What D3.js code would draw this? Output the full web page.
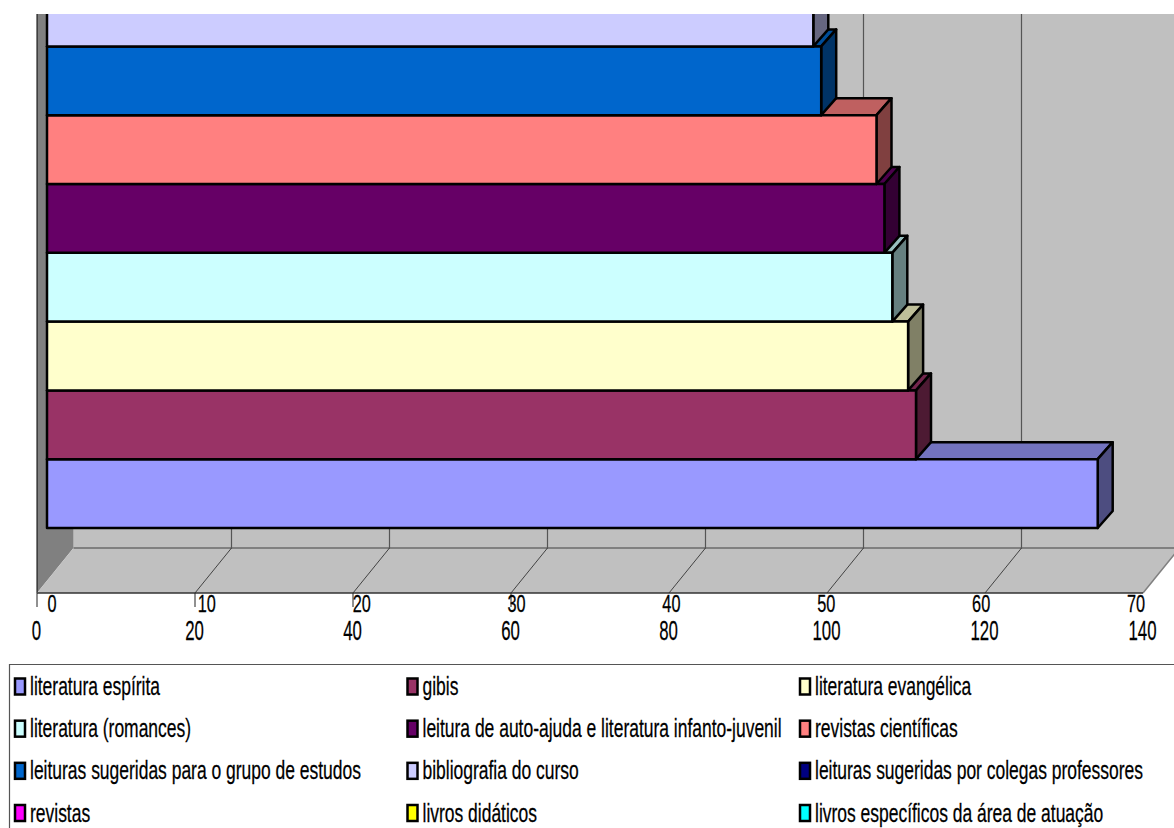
<!DOCTYPE html>
<html>
<head>
<meta charset="utf-8">
<script src="https://cdnjs.cloudflare.com/ajax/libs/d3/7.8.5/d3.min.js"></script>
<style>
  html, body { margin: 0; padding: 0; background: #fff; }
  svg { display: block; font-family: "Liberation Sans", Arial, sans-serif; }
  text { stroke: #000; stroke-width: 0.25; }
</style>
</head>
<body>
<svg id="chart" width="1174" height="828"></svg>
<script>
const categories = [
  'literatura espírita', 'gibis', 'literatura evangélica',
  'literatura (romances)', 'leitura de auto-ajuda e literatura infanto-juvenil', 'revistas científicas',
  'leituras sugeridas para o grupo de estudos', 'bibliografia do curso', 'leituras sugeridas por colegas professores',
  'revistas', 'livros didáticos', 'livros específicos da área de atuação'
];
const colors = [
  '#9999ff', '#993366', '#ffffcc',
  '#ccffff', '#660066', '#ff8080',
  '#0066cc', '#ccccff', '#000080',
  '#ff00ff', '#ffff00', '#00ffff'
];
// only these bars are inside the picture, the others are cut off at the top
const values = [133, 110, 109, 107, 106, 105, 98, 97];
const bottomTicks = [0, 20, 40, 60, 80, 100, 120, 140];
const topTicks = [0, 10, 20, 30, 40, 50, 60, 70];

const svg = d3.select('#chart');
const floorY = 593, backY = 548, depthX = 36.5;
const x = d3.scaleLinear().domain([0, 140]).range([37, 1143]);
const xTop = d3.scaleLinear().domain([0, 70]).range([52, 1136]);
const barX = d3.scaleLinear().domain([0, 140]).range([47, 1153]);
const rowY = d3.scaleLinear().domain([0, 1]).range([528, 459.2]);
const barDx = 15, barDy = 17;

svg.append('defs').append('clipPath').attr('id', 'plot')
  .append('rect').attr('x', 0).attr('y', 14).attr('width', 1174).attr('height', 814);
const g = svg.append('g').attr('clip-path', 'url(#plot)');
const line = d3.line();

// back wall
g.append('rect').attr('x', x(0) + depthX).attr('y', 0)
  .attr('width', 1174).attr('height', backY).attr('fill', '#c0c0c0');

// left wall
g.append('path')
  .attr('d', line([[x(0), 0], [x(0) + depthX, 0], [x(0) + depthX, backY], [x(0), floorY]]) + 'Z')
  .attr('fill', '#808080');
g.append('line').attr('x1', x(0)).attr('x2', x(0)).attr('y1', 0).attr('y2', floorY)
  .attr('stroke', '#000').attr('stroke-width', 1);

// floor
g.append('path')
  .attr('d', line([[x(0), floorY], [x(140), floorY], [x(140) + depthX, backY], [x(0) + depthX, backY]]) + 'Z')
  .attr('fill', '#c0c0c0');
g.append('line').attr('x1', x(0) + depthX).attr('x2', 1174).attr('y1', backY).attr('y2', backY)
  .attr('stroke', '#808080').attr('stroke-width', 2);
g.append('line').attr('x1', x(140)).attr('x2', x(140) + depthX).attr('y1', floorY).attr('y2', backY)
  .attr('stroke', '#808080').attr('stroke-width', 1.5);

// grid on wall and floor
const gridTicks = bottomTicks.slice(1, -1);
g.selectAll('.wallGrid').data(gridTicks).join('line').attr('class', 'wallGrid')
  .attr('x1', d => x(d) + depthX).attr('x2', d => x(d) + depthX)
  .attr('y1', 0).attr('y2', backY)
  .attr('stroke', '#555').attr('stroke-width', 1.2);
g.selectAll('.floorGrid').data(gridTicks).join('line').attr('class', 'floorGrid')
  .attr('x1', d => x(d)).attr('x2', d => x(d) + depthX)
  .attr('y1', floorY).attr('y2', backY)
  .attr('stroke', '#222').attr('stroke-width', 0.8);
g.append('line').attr('x1', x(0)).attr('x2', x(140)).attr('y1', floorY).attr('y2', floorY)
  .attr('stroke', '#333').attr('stroke-width', 1.5);

// tick marks below the floor, the reference only has the first ones
g.selectAll('.tick').data(bottomTicks.slice(0, 4)).join('line').attr('class', 'tick')
  .attr('x1', d => x(d)).attr('x2', d => x(d))
  .attr('y1', floorY).attr('y2', floorY + 14)
  .attr('stroke', '#222').attr('stroke-width', 1);

function shade(color, k) {
  const c = d3.rgb(color);
  return d3.rgb(c.r * k, c.g * k, c.b * k).formatHex();
}

// bars, bottom row first: each upper bar covers the top face of the one below
const bars = values.map((v, i) => ({ v, i, color: colors[i] }));
const bar = g.selectAll('.bar').data(bars).join('g').attr('class', 'bar')
  .attr('stroke', '#000').attr('stroke-width', 2.5).attr('stroke-linejoin', 'round');

bar.append('path')
  .attr('d', d => {
    const x1 = barX(0), x2 = barX(d.v), yt = rowY(d.i + 1);
    return line([[x1, yt], [x1 + barDx, yt - barDy], [x2 + barDx, yt - barDy], [x2, yt]]) + 'Z';
  })
  .attr('fill', d => shade(d.color, 0.75));
bar.append('path')
  .attr('d', d => {
    const x2 = barX(d.v), yt = rowY(d.i + 1), yb = rowY(d.i);
    return line([[x2, yt], [x2 + barDx, yt - barDy], [x2 + barDx, yb - barDy], [x2, yb]]) + 'Z';
  })
  .attr('fill', d => shade(d.color, 0.5));
bar.append('rect')
  .attr('x', barX(0))
  .attr('y', d => rowY(d.i + 1))
  .attr('width', d => barX(d.v) - barX(0))
  .attr('height', d => rowY(d.i) - rowY(d.i + 1))
  .attr('fill', d => d.color);

// narrow text: the reference is squeezed horizontally
function narrow(sel, px, py, scale) {
  sel.attr('transform', `translate(${px},${py}) scale(${scale},1)`);
}

svg.selectAll('.topLabel').data(topTicks).join('text').attr('class', 'topLabel')
  .text(d => d).attr('text-anchor', 'middle').attr('font-size', 24).attr('fill', '#000')
  .each(function (d) { narrow(d3.select(this), xTop(d), 612, 0.68); });

svg.selectAll('.bottomLabel').data(bottomTicks).join('text').attr('class', 'bottomLabel')
  .text(d => d).attr('text-anchor', 'middle').attr('font-size', 28).attr('fill', '#000')
  .each(function (d) { narrow(d3.select(this), x(d) - 0.5, 640, 0.6); });

// legend
svg.append('path').attr('d', 'M9.5,828V664.5H1174').attr('fill', 'none')
  .attr('stroke', '#555').attr('stroke-width', 1.2);
const colX = d3.scalePoint().domain([0, 1, 2]).range([15, 800]);
const legY = d3.scalePoint().domain([0, 1, 2, 3]).range([686.5, 813]);
const leg = svg.selectAll('.legend').data(categories).join('g').attr('class', 'legend')
  .attr('transform', (d, i) => `translate(${colX(i % 3)},${legY(Math.floor(i / 3))})`);
leg.append('rect').attr('x', 0).attr('y', -8).attr('width', 10).attr('height', 16)
  .attr('fill', (d, i) => colors[i]).attr('stroke', '#000').attr('stroke-width', 2.5);
leg.append('text').text(d => d).attr('font-size', 25).attr('fill', '#000')
  .each(function () { narrow(d3.select(this), 15, 8.5, 0.699); });
</script>
</body>
</html>
